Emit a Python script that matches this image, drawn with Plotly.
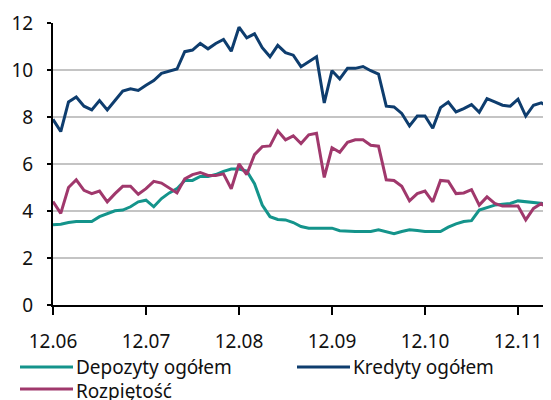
import plotly.graph_objects as go

tick_labels = ["12.06", "12.07", "12.08", "12.09", "12.10", "12.11"]
tick_positions = [0, 12, 24, 36, 48, 60]
months = list(range(65))

kredyty = [7.9, 7.38, 8.64, 8.85, 8.46, 8.3, 8.7, 8.3, 8.7, 9.1,
           9.2, 9.13, 9.35, 9.55, 9.86, 9.95, 10.04, 10.78, 10.85, 11.13,
           10.9, 11.13, 11.3, 10.8, 11.82, 11.37, 11.54, 10.95, 10.56, 11.05,
           10.74, 10.63, 10.14, 10.35, 10.56, 8.6, 9.97, 9.62, 10.07, 10.07,
           10.15, 9.97, 9.83, 8.46, 8.43, 8.15, 7.62, 8.04, 8.04, 7.52,
           8.4, 8.64, 8.22, 8.36, 8.53, 8.2, 8.78, 8.64, 8.5, 8.46,
           8.76, 8.04, 8.5, 8.6, 8.43]

rozpietosc = [4.4, 3.9, 5.0, 5.33, 4.88, 4.74, 4.85, 4.39, 4.74, 5.05,
              5.05, 4.71, 4.95, 5.26, 5.19, 4.99, 4.77, 5.37, 5.55, 5.64,
              5.51, 5.51, 5.58, 4.95, 6.0, 5.55, 6.4, 6.74, 6.77, 7.41,
              7.03, 7.2, 6.87, 7.24, 7.31, 5.43, 6.69, 6.5, 6.92, 7.03,
              7.03, 6.8, 6.76, 5.33, 5.3, 5.05, 4.43, 4.74, 4.85, 4.39,
              5.3, 5.27, 4.74, 4.77, 4.91, 4.25, 4.6, 4.32, 4.21, 4.21,
              4.21, 3.62, 4.11, 4.32, 4.07]

depozyty = [3.41, 3.44, 3.51, 3.55, 3.55, 3.55, 3.76, 3.87, 4.01, 4.04,
            4.18, 4.39, 4.46, 4.18, 4.53, 4.77, 4.95, 5.3, 5.3, 5.47,
            5.47, 5.55, 5.69, 5.79, 5.79, 5.7, 5.16, 4.25, 3.76, 3.64,
            3.62, 3.51, 3.34, 3.27, 3.27, 3.27, 3.27, 3.16, 3.13, 3.13,
            3.13, 3.13, 3.2, 3.13, 3.03, 3.13, 3.2, 3.17, 3.13, 3.13,
            3.13, 3.31, 3.45, 3.55, 3.59, 4.04, 4.15, 4.25, 4.29, 4.32,
            4.43, 4.39, 4.35, 4.32, 4.29]

names = ["Depozyty ogółem", "Kredyty ogółem", "Rozpiętość"]
colors = ["#14948b", "#0e3d6e", "#a0386c"]
series = [depozyty, kredyty, rozpietosc]

FONT = "Noto Sans"
OFF = 8  # default page body margin
W, H = 551, 400
L, R, T, B = 53 - OFF, 10, 23 - OFF, 103
pw, ph = W - L - R, H - T - B

fig = go.Figure()
for name, col, vals in zip(names, colors, series):
    fig.add_trace(go.Scatter(x=months, y=vals, mode="lines", name=name,
                             line=dict(color=col, width=3), showlegend=False))

def px_x(p):
    return (p - OFF - L) / pw

def px_y(p):
    return (T + ph - (p - OFF)) / ph

# manual legend (window pixel positions): name, colour, sample x, sample y, text y
legend_items = [(names[0], colors[0], 20, 367, 367), (names[1], colors[1], 297, 367, 367),
                (names[2], colors[2], 20, 389, 391)]
shapes = []
annotations = []
for name, col, x0, y0, ty in legend_items:
    shapes.append(dict(type="line", xref="paper", yref="paper",
                       x0=px_x(x0), x1=px_x(x0 + 53), y0=px_y(y0), y1=px_y(y0),
                       line=dict(color=col, width=3)))
    annotations.append(dict(xref="paper", yref="paper", x=px_x(x0 + 54), y=px_y(ty),
                            text=name, showarrow=False, xanchor="left", yanchor="middle",
                            font=dict(family=FONT, size=19, color="#111111")))

fig.update_layout(
    width=W, height=H,
    margin=dict(l=L, r=R, t=T, b=B, autoexpand=False),
    paper_bgcolor="white", plot_bgcolor="white",
    font=dict(family=FONT, size=19, color="#111111"),
    shapes=shapes, annotations=annotations,
    xaxis=dict(range=[0, 64], tickmode="array", tickvals=tick_positions, ticktext=tick_labels,
               showgrid=False, showline=True, linecolor="black", linewidth=2,
               ticks="outside", ticklen=8, tickwidth=2, tickcolor="black", zeroline=False,
               ticklabelstandoff=10, automargin=False),
    yaxis=dict(range=[0, 12], tickvals=[0, 2, 4, 6, 8, 10, 12],
               showgrid=True, gridcolor="#c4c4c4", gridwidth=2,
               showline=True, linecolor="black", linewidth=2,
               ticks="outside", ticklen=4, tickwidth=2, tickcolor="black", zeroline=False,
               ticklabelstandoff=10, automargin=False),
)

fig.write_html("out.html")
